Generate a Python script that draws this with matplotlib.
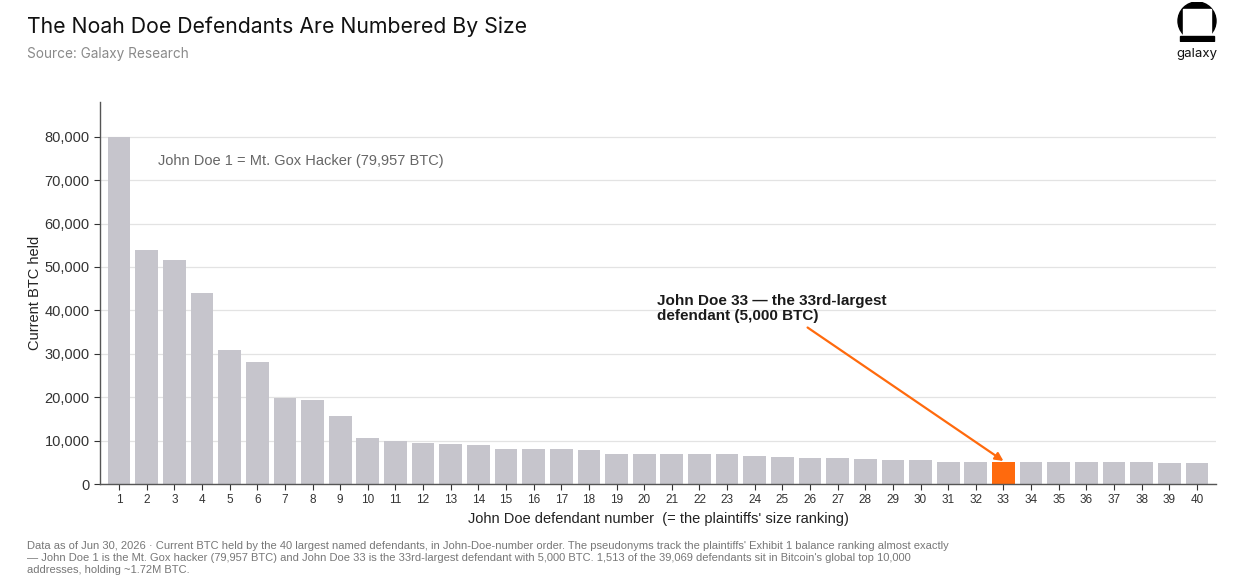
import matplotlib.pyplot as plt
from matplotlib.patches import Circle, Rectangle
from matplotlib.ticker import FuncFormatter

# John Doe number -> current BTC held
doe_numbers = list(range(1, 41))
btc_held = [79957, 53800, 51700, 43900, 30900, 28100, 19900, 19300, 15600, 10700,
            9900, 9350, 9200, 9000, 8000, 8000, 8000, 7800, 6900, 6900,
            6900, 6900, 6800, 6400, 6200, 6100, 5900, 5700, 5500, 5500,
            5100, 5000, 5000, 5000, 5000, 5000, 5000, 5000, 4950, 4950]
highlight = 33

grey = '#c6c5cc'
orange = '#ff6a0d'

plt.rcParams['font.family'] = ['Liberation Sans', 'DejaVu Sans']

fig = plt.figure(figsize=(12.33, 5.86), dpi=100)
ax = fig.add_axes([100 / 1233, 1 - 484 / 586, 1116 / 1233, 382 / 586])

colors = [orange if n == highlight else grey for n in doe_numbers]
ax.bar(doe_numbers, btc_held, width=0.82, color=colors, zorder=2)

ax.set_xlim(0.31, 40.69)
ax.set_ylim(0, 88000)
ax.set_xticks(doe_numbers)
ax.set_yticks(range(0, 80001, 10000))
ax.yaxis.set_major_formatter(FuncFormatter(lambda v, p: f'{int(v):,}'))
ax.tick_params(axis='both', colors='#333333', length=4, width=0.8)
ax.tick_params(axis='y', labelsize=10.5)
ax.tick_params(axis='x', labelsize=8.5)
ax.grid(axis='y', color='#e3e3e3', linewidth=0.9, zorder=0)
for s in ['top', 'right']:
    ax.spines[s].set_visible(False)
for s in ['left', 'bottom']:
    ax.spines[s].set_color('#555555')
    ax.spines[s].set_linewidth(1.0)

ax.set_ylabel('Current BTC held', fontsize=10.5, color='#222222', labelpad=2)
ax.set_xlabel("John Doe defendant number  (= the plaintiffs' size ranking)",
              fontsize=10.5, color='#222222', labelpad=4)

ax.text(2.41, 74500, 'John Doe 1 = Mt. Gox Hacker (79,957 BTC)', fontsize=10.5,
        color='#666666', va='center')

ax.annotate('John Doe 33 \u2014 the 33rd-largest\ndefendant (5,000 BTC)',
            xy=(highlight, btc_held[highlight - 1] + 300), xytext=(20.45, 40400),
            fontsize=11, fontweight='bold', color='#1a1a1a', va='center',
            linespacing=1.1,
            arrowprops=dict(arrowstyle='-|>', color=orange, lw=1.6,
                            mutation_scale=12, shrinkA=2, shrinkB=0,
                            relpos=(0.63, 0.0)))

fig.text(27 / 1233, 1 - 27 / 586, 'The Noah Doe Defendants Are Numbered By Size',
         fontsize=15.3, family=['Inter', 'DejaVu Sans'], color='#111111', va='center')
fig.text(27 / 1233, 1 - 54 / 586, 'Source: Galaxy Research', fontsize=9.8,
         family=['Inter', 'DejaVu Sans'], color='#8a8a8a', va='center')

footnote = ("Data as of Jun 30, 2026 \u00b7 Current BTC held by the 40 largest named defendants, in John-Doe-number order. "
            "The pseudonyms track the plaintiffs' Exhibit 1 balance ranking almost exactly\n"
            "\u2014 John Doe 1 is the Mt. Gox hacker (79,957 BTC) and John Doe 33 is the 33rd-largest defendant with 5,000 BTC. "
            "1,513 of the 39,069 defendants sit in Bitcoin's global top 10,000\n"
            "addresses, holding ~1.72M BTC.")
fig.text(27 / 1233, 1 - 541 / 586, footnote, fontsize=8, color='#777777',
         va='top', linespacing=1.25)

# galaxy logo
lax = fig.add_axes([1175 / 1233, 1 - 42 / 586, 44 / 1233, 40 / 586])
lax.set_xlim(0, 44)
lax.set_ylim(0, 40)
lax.set_aspect('equal')
lax.axis('off')
lax.add_patch(Circle((22, 21), 19, color='black'))
lax.add_patch(Rectangle((8, 6), 28, 27, color='white'))
lax.add_patch(Rectangle((5, 1.5), 34, 4.5, color='black'))
fig.text(1197 / 1233, 1 - 54 / 586, 'galaxy', fontsize=9.5, color='#111111',
         ha='center', va='center', family=['Inter', 'DejaVu Sans'])

fig.savefig('out.png', dpi=100)
